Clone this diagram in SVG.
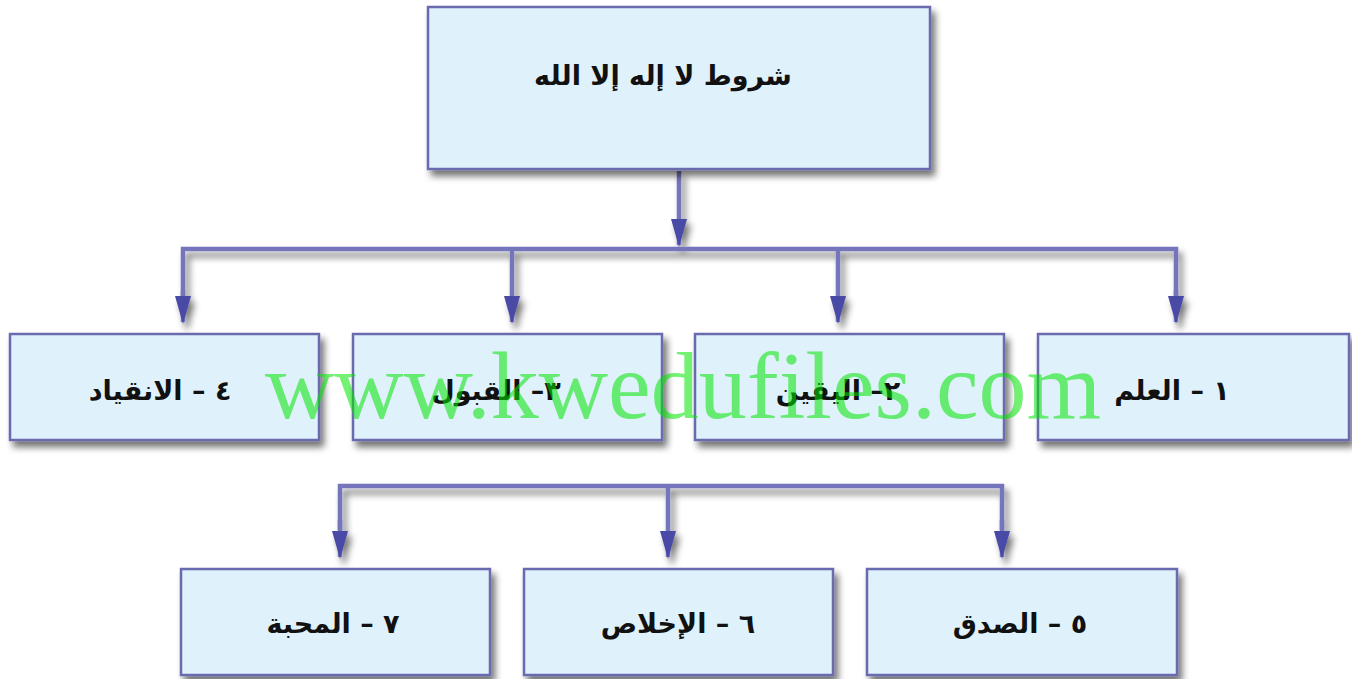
<svg xmlns="http://www.w3.org/2000/svg" width="1352" height="679" viewBox="0 0 1352 679">
<defs>
<filter id="sh" x="-10%" y="-20%" width="130%" height="160%">
<feGaussianBlur in="SourceAlpha" stdDeviation="3.5"/>
<feOffset dx="4" dy="6" result="b"/>
<feComponentTransfer><feFuncA type="linear" slope="0.55"/></feComponentTransfer>
<feMerge><feMergeNode/><feMergeNode in="SourceGraphic"/></feMerge>
</filter>
<marker id="ah" viewBox="0 0 28 16" markerWidth="28" markerHeight="16" refX="26" refY="8" orient="auto" markerUnits="userSpaceOnUse">
<path d="M0,0 L28,8 L0,16 Z" fill="#4a4aa6"/>
</marker>
</defs>
<style>
.box{fill:#dff1fa;stroke:#6a6aae;stroke-width:2.5}
.lbl{font-family:"DejaVu Sans",sans-serif;font-weight:bold;font-size:27px;fill:#111;text-anchor:middle}
.con{fill:none;stroke:#7474bc;stroke-width:4.5;stroke-linejoin:miter}
.wm{font-family:"Liberation Serif",serif;font-size:96px;fill:#00e600;fill-opacity:0.55}
</style>
<rect width="1352" height="679" fill="#ffffff"/>
<g id="connectors" filter="url(#sh)">
<path class="con" d="M679,171 V245" marker-end="url(#ah)"/>
<path class="con" d="M183,300 V249 H1176 V300"/>
<path class="con" d="M183,290 V322" marker-end="url(#ah)"/>
<path class="con" d="M512,249 V322" marker-end="url(#ah)"/>
<path class="con" d="M838,249 V322" marker-end="url(#ah)"/>
<path class="con" d="M1176,290 V322" marker-end="url(#ah)"/>
<path class="con" d="M340,530 V486 H1002 V530"/>
<path class="con" d="M340,520 V557" marker-end="url(#ah)"/>
<path class="con" d="M668,486 V557" marker-end="url(#ah)"/>
<path class="con" d="M1002,520 V557" marker-end="url(#ah)"/>
</g>
<g id="root" filter="url(#sh)"><rect class="box" x="428" y="7" width="502" height="162"/></g>
<text class="lbl" x="663" y="85" direction="rtl" font-size="28">شروط لا إله إلا الله</text>
<g id="n1" filter="url(#sh)"><rect class="box" x="1038" y="334" width="311" height="106"/></g>
<text class="lbl" x="1172" y="400" direction="rtl">١ – العلم</text>
<g id="n2" filter="url(#sh)"><rect class="box" x="695" y="334" width="309" height="106"/></g>
<text class="lbl" x="838" y="400" direction="rtl">٢– اليقين</text>
<g id="n3" filter="url(#sh)"><rect class="box" x="353" y="334" width="309" height="106"/></g>
<text class="lbl" x="496" y="400" direction="rtl">٣– القبول</text>
<g id="n4" filter="url(#sh)"><rect class="box" x="10" y="334" width="309" height="106"/></g>
<text class="lbl" x="160" y="400" direction="rtl">٤ – الانقياد</text>
<g id="n5" filter="url(#sh)"><rect class="box" x="867" y="569" width="310" height="106"/></g>
<text class="lbl" x="1020" y="633" direction="rtl">٥ – الصدق</text>
<g id="n6" filter="url(#sh)"><rect class="box" x="524" y="569" width="309" height="106"/></g>
<text class="lbl" x="678" y="633" direction="rtl">٦ – الإخلاص</text>
<g id="n7" filter="url(#sh)"><rect class="box" x="181" y="569" width="309" height="106"/></g>
<text class="lbl" x="333" y="633" direction="rtl">٧ – المحبة</text>
<text class="wm" x="265" y="418">www.kwedufiles.com</text>
</svg>
